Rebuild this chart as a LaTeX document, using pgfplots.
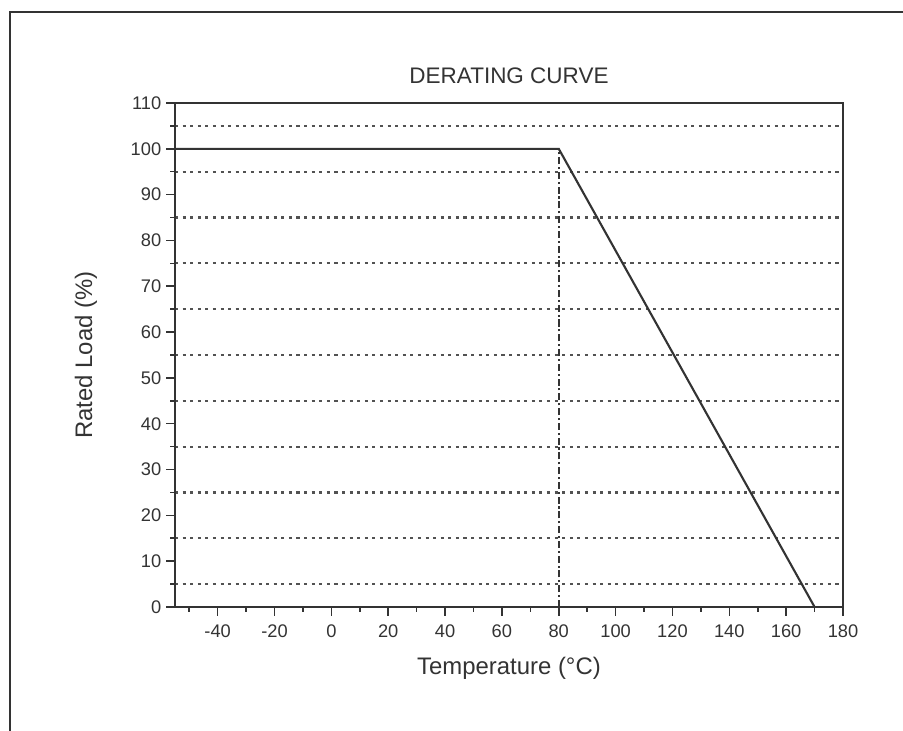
\documentclass[border=0pt]{standalone}
\usepackage{pgfplots}
\pgfplotsset{compat=1.18}
\usepackage{fontspec}
\setmainfont{Liberation Sans}
\definecolor{ink}{HTML}{333333}
\begin{document}
\begin{tikzpicture}
  % scanned page frame
  \path[use as bounding box] (0,0) rectangle (22.575,18.275);
  \draw[line width=2pt, ink] (0.25,0) -- (0.25,17.975) -- (22.575,17.975);
  \begin{axis}[
      at={(4.375cm,3.1cm)}, anchor=south west,
      scale only axis, width=16.7cm, height=12.6cm,
      xmin=-55, xmax=180, ymin=0, ymax=110,
      xtick={-40,-20,...,180}, ytick={0,10,...,110},
      minor xtick={-50,-30,...,170},
      minor ytick={5,15,...,105},
      yminorgrids=true,
      minor grid style={ink!85, line width=1.6pt, dash pattern=on 2.2pt off 3.2pt},
      tick align=outside, tick pos=left,
      major tick length=0.22cm, minor tick length=0.12cm,
      axis line style={line width=1.4pt, ink},
      every tick/.style={line width=1.1pt, ink},
      /pgf/number format/assume math mode=true,
      tick label style={font=\fontsize{13}{15}\selectfont, text=ink},
      xticklabel style={yshift=-1mm},
      title={DERATING CURVE},
      title style={font=\fontsize{16}{18}\selectfont, text=ink, at={(0.5,1)}, anchor=south, yshift=1.5mm},
      xlabel={Temperature (°C)},
      ylabel={Rated Load (\%)},
      label style={font=\fontsize{17}{19}\selectfont, text=ink},
      xlabel style={yshift=-2.5mm},
      ylabel style={yshift=6mm},
    ]
    % dashed reference line at 80 C
    \addplot[ink, line width=1.2pt, dash pattern=on 5pt off 2pt on 1.5pt off 2pt] coordinates {(80,0) (80,100)};
    % derating curve
    \addplot[ink, line width=1.5pt] coordinates {(-55,100) (80,100) (170,0)};
  \end{axis}
\end{tikzpicture}
\end{document}
